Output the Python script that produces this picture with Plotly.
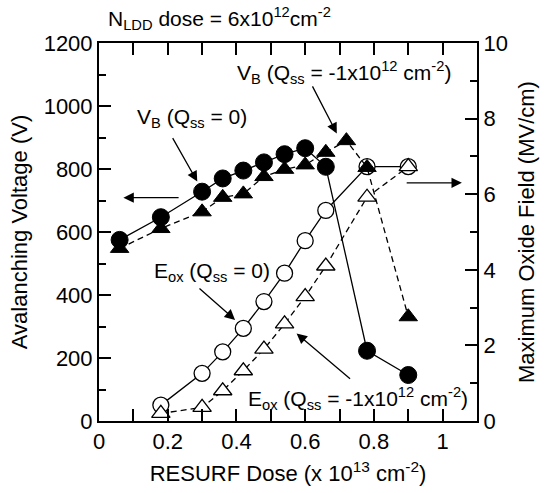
import plotly.graph_objects as go

# RESURF dose (x 1e13 cm^-2)
dose_vb0 = [0.06, 0.18, 0.30, 0.36, 0.42, 0.48, 0.54, 0.60, 0.66, 0.78, 0.90]
vb_qss0 = [575, 647, 728, 770, 795, 821, 847, 866, 807, 223, 146]

dose_vb1 = [0.06, 0.18, 0.30, 0.36, 0.42, 0.48, 0.54, 0.60, 0.66, 0.72, 0.78, 0.90]
vb_qss1 = [548, 611, 664, 710, 721, 776, 799, 813, 853, 890, 805, 331]

dose_e0 = [0.18, 0.30, 0.36, 0.42, 0.48, 0.54, 0.60, 0.66, 0.78, 0.90]
eox_qss0 = [0.42, 1.26, 1.83, 2.45, 3.16, 3.91, 4.77, 5.57, 6.73, 6.73]

dose_e1 = [0.18, 0.30, 0.36, 0.42, 0.48, 0.54, 0.60, 0.66, 0.78, 0.90]
eox_qss1 = [0.20, 0.36, 0.80, 1.33, 1.90, 2.57, 3.29, 4.10, 5.92, 6.73]

x_tickvals = [0, 0.2, 0.4, 0.6, 0.8, 1.0]
x_ticktext = ["0", "0.2", "0.4", "0.6", "0.8", "1"]

FONT = "Liberation Sans, Arial, sans-serif"
FS = 21
FT = 22
LW = 1.3

fig = go.Figure()

# E-field traces (right axis, base y)
fig.add_trace(go.Scatter(
    x=dose_e0, y=eox_qss0, yaxis="y", mode="lines+markers",
    line=dict(color="black", width=LW),
    marker=dict(symbol="circle", size=16, color="white",
                line=dict(color="black", width=1.3))))
fig.add_trace(go.Scatter(
    x=dose_e1, y=eox_qss1, yaxis="y", mode="lines+markers",
    line=dict(color="black", width=LW, dash="6px,4px"),
    marker=dict(symbol="triangle-up", size=16, color="white",
                line=dict(color="black", width=1.3))))

# Breakdown voltage traces (left axis, overlaying y2)
fig.add_trace(go.Scatter(
    x=dose_vb0, y=vb_qss0, yaxis="y2", mode="lines+markers",
    line=dict(color="black", width=LW),
    marker=dict(symbol="circle", size=17, color="black",
                line=dict(color="black", width=1))))
fig.add_trace(go.Scatter(
    x=dose_vb1, y=vb_qss1, yaxis="y2", mode="lines+markers",
    line=dict(color="black", width=LW, dash="6px,4px"),
    marker=dict(symbol="triangle-up", size=16, color="black",
                line=dict(color="black", width=1))))

tickfont = dict(family=FONT, size=FT, color="black")

fig.update_layout(
    width=549, height=493,
    margin=dict(l=99, r=72, t=43, b=72),
    paper_bgcolor="white", plot_bgcolor="white",
    showlegend=False,
    font=dict(family=FONT, size=FS, color="black"),
    xaxis=dict(
        range=[0, 1.1], tickvals=x_tickvals, ticktext=x_ticktext,
        ticks="inside", ticklen=12, tickwidth=1.5, tickcolor="black",
        minor=dict(tickvals=[0.1, 0.3, 0.5, 0.7, 0.9], ticks="inside",
                   ticklen=7, tickwidth=1.5, tickcolor="black"),
        showline=True, linecolor="black", linewidth=2, mirror="allticks",
        showgrid=False, zeroline=False, tickfont=tickfont,
        title=dict(text="RESURF Dose (x 10<sup>13</sup> cm<sup>-2</sup>)",
                   font=dict(family=FONT, size=FT), standoff=12),
    ),
    yaxis=dict(
        range=[0, 10], side="right", dtick=2,
        ticks="inside", ticklen=12, tickwidth=1.5, tickcolor="black",
        minor=dict(dtick=1, ticks="inside", ticklen=7, tickwidth=1.5,
                   tickcolor="black"),
        showline=True, linecolor="black", linewidth=2,
        showgrid=False, zeroline=False, tickfont=tickfont,
        title=dict(text="Maximum Oxide Field (MV/cm)",
                   font=dict(family=FONT, size=FT), standoff=12),
    ),
    yaxis2=dict(
        range=[0, 1200], side="left", overlaying="y", anchor="x", dtick=200,
        ticks="inside", ticklen=12, tickwidth=1.5, tickcolor="black",
        minor=dict(dtick=100, ticks="inside", ticklen=7, tickwidth=1.5,
                   tickcolor="black"),
        showline=True, linecolor="black", linewidth=2,
        showgrid=False, zeroline=False, tickfont=tickfont,
        title=dict(text="Avalanching Voltage (V)",
                   font=dict(family=FONT, size=FT), standoff=10),
    ),
)

# Arrows (head x,y ; tail ax,ay) in data coords of x / y2
arrows = [
    (0.286, 760, 0.212, 903),
    (0.692, 913, 0.619, 1067),
    (0.071, 709, 0.236, 709),
    (1.056, 756, 0.891, 756),
    (0.396, 321, 0.288, 425),
    (0.575, 278, 0.735, 130),
]
for hx, hy, tx, ty in arrows:
    fig.add_annotation(x=hx, y=hy, ax=tx, ay=ty, xref="x", yref="y2",
                       axref="x", ayref="y2", text="", showarrow=True,
                       arrowhead=2, arrowsize=1.6, arrowwidth=1.3,
                       arrowcolor="black", standoff=0, startstandoff=0)

labels = [
    (0.27, 962, "V<sub>B</sub> (Q<sub>ss</sub> = 0)"),
    (0.713, 1105, "V<sub>B</sub> (Q<sub>ss</sub> = -1x10<sup>12</sup> cm<sup>-2</sup>)"),
    (0.329, 473, "E<sub>ox</sub> (Q<sub>ss</sub> = 0)"),
    (0.754, 73, "E<sub>ox</sub> (Q<sub>ss</sub> = -1x10<sup>12</sup> cm<sup>-2</sup>)"),
]
for lx, ly, t in labels:
    fig.add_annotation(x=lx, y=ly, xref="x", yref="y2", text=t,
                       showarrow=False, font=dict(family=FONT, size=FS),
                       xanchor="center", yanchor="middle")

fig.add_annotation(x=0.32, y=1.066, xref="paper", yref="paper",
                   text="N<sub>LDD</sub> dose = 6x10<sup>12</sup>cm<sup>-2</sup>",
                   showarrow=False, font=dict(family=FONT, size=FS),
                   xanchor="center", yanchor="middle")

fig.write_html("out.html")
